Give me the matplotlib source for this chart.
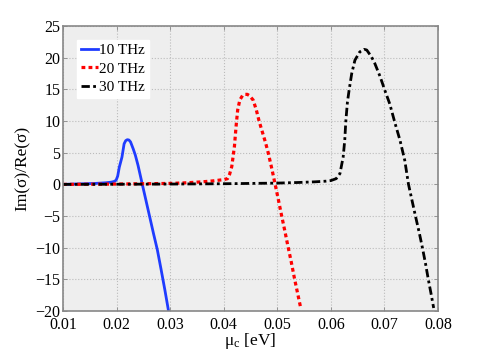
import matplotlib
matplotlib.use("Agg")
import matplotlib.pyplot as plt

plt.rcParams['font.family'] = ['Liberation Serif', 'DejaVu Serif']
plt.rcParams['mathtext.fontset'] = 'stix'

# 10 THz
x10 = [0.010, 0.012, 0.014, 0.016, 0.018, 0.019, 0.0195, 0.0199, 0.0202, 0.0205, 0.0210,
       0.0214, 0.0217, 0.0220, 0.0223, 0.0226, 0.0231, 0.0235, 0.0240, 0.0244,
       0.0248, 0.0255, 0.0262, 0.0269, 0.0276, 0.0283, 0.0290, 0.0297]
y10 = [0.0, 0.05, 0.1, 0.15, 0.25, 0.35, 0.45, 0.65, 1.3, 2.7, 4.3,
       6.4, 6.9, 7.05, 7.0, 6.7, 5.6, 4.6, 3.0, 1.5,
       0.0, -2.6, -5.2, -7.8, -10.3, -13.4, -16.6, -20.0]

# 20 THz
x20 = [0.010, 0.015, 0.020, 0.025, 0.030, 0.033, 0.036, 0.038, 0.039, 0.040,
       0.0407, 0.0411, 0.0415, 0.0420, 0.0423, 0.0426, 0.0430, 0.0435, 0.0440,
       0.0444, 0.0448, 0.0455, 0.0461, 0.0466, 0.0472, 0.0478, 0.0483, 0.0490,
       0.0496, 0.0502, 0.0508, 0.0514, 0.0520, 0.0526, 0.0532, 0.0538, 0.0544]
y20 = [0.0, 0.02, 0.05, 0.1, 0.15, 0.25, 0.4, 0.55, 0.65, 0.75,
       0.9, 1.6, 2.8, 6.0, 9.1, 11.7, 13.3, 14.0, 14.2,
       14.2, 14.0, 13.3, 11.7, 10.0, 8.3, 6.6, 5.0, 2.4,
       0.0, -2.4, -4.9, -7.3, -9.8, -12.2, -14.8, -17.2, -19.6]

# 30 THz
x30 = [0.010, 0.020, 0.030, 0.040, 0.045, 0.050, 0.054, 0.057, 0.059, 0.060,
       0.061, 0.0617, 0.0623, 0.0626, 0.0628, 0.0631, 0.0634, 0.0639, 0.0645,
       0.0654, 0.0662, 0.0667, 0.0676, 0.0682, 0.0692, 0.0701, 0.0710, 0.0720,
       0.0729, 0.0738, 0.0745, 0.0752, 0.0758, 0.0765, 0.0771, 0.0777, 0.0782,
       0.0787, 0.0792]
y30 = [0.0, 0.02, 0.05, 0.1, 0.15, 0.2, 0.3, 0.4, 0.5, 0.6,
       0.9, 1.7, 4.3, 7.0, 10.0, 13.0, 14.8, 17.5, 19.6,
       20.9, 21.3, 21.2, 20.1, 19.1, 17.0, 14.8, 12.7, 9.6,
       7.0, 3.8, 0.0, -2.7, -5.0, -7.6, -10.0, -12.6, -15.0,
       -17.2, -19.5]

labels = ['10 THz', '20 THz', '30 THz']
xticks = [0.01, 0.02, 0.03, 0.04, 0.05, 0.06, 0.07, 0.08]
xticklabels = ['0.01', '0.02', '0.03', '0.04', '0.05', '0.06', '0.07', '0.08']
yticks = [-20, -15, -10, -5, 0, 5, 10, 15, 20, 25]

fig = plt.figure(figsize=(4.85, 3.5), dpi=100)
ax = fig.add_axes([0.130, 0.111, 0.773, 0.815])
ax.set_facecolor('#eeeeee')

ax.plot(x10, y10, color='#1f3cff', lw=2.0, ls='-', label=labels[0])
ax.plot(x20, y20, color='#ff0000', lw=2.3, ls=(0, (1.2, 1.0)), label=labels[1])
ax.plot(x30, y30, color='black', lw=2.0, ls=(0, (3, 1.2, 1, 1.2)), label=labels[2])

ax.set_xlim(0.01, 0.08)
ax.set_ylim(-20, 25)
ax.set_xticks(xticks)
ax.set_xticklabels(xticklabels)
ax.set_yticks(yticks)
ax.set_yticklabels([('\u2212' + str(-v)) if v < 0 else str(v) for v in yticks])
ax.grid(True, color='#bbbbbb', ls=':', lw=0.8)
ax.tick_params(direction='in', length=3, width=0.6, colors='#888888',
               labelcolor='black', labelsize=11.5, top=True, right=True, pad=2)
ax.tick_params(axis='x', pad=4)
for s in ax.spines.values():
    s.set_color('#888888')
    s.set_linewidth(1.2)

ax.set_xlabel(r'$\mathregular{\mu_c}$ [eV]', fontsize=12.5, labelpad=-1)
ax.set_ylabel('Im(σ)/Re(σ)', fontsize=12.5, labelpad=3)

leg = ax.legend(loc='upper left', bbox_to_anchor=(0.037, 0.951), fontsize=11,
                frameon=True, fancybox=False, handlelength=1.1, handletextpad=0.1,
                borderpad=0.25, labelspacing=0.3, borderaxespad=0)
leg.get_frame().set_facecolor('white')
leg.get_frame().set_edgecolor('white')
leg.get_frame().set_alpha(1)

fig.savefig('out.png', dpi=100)
